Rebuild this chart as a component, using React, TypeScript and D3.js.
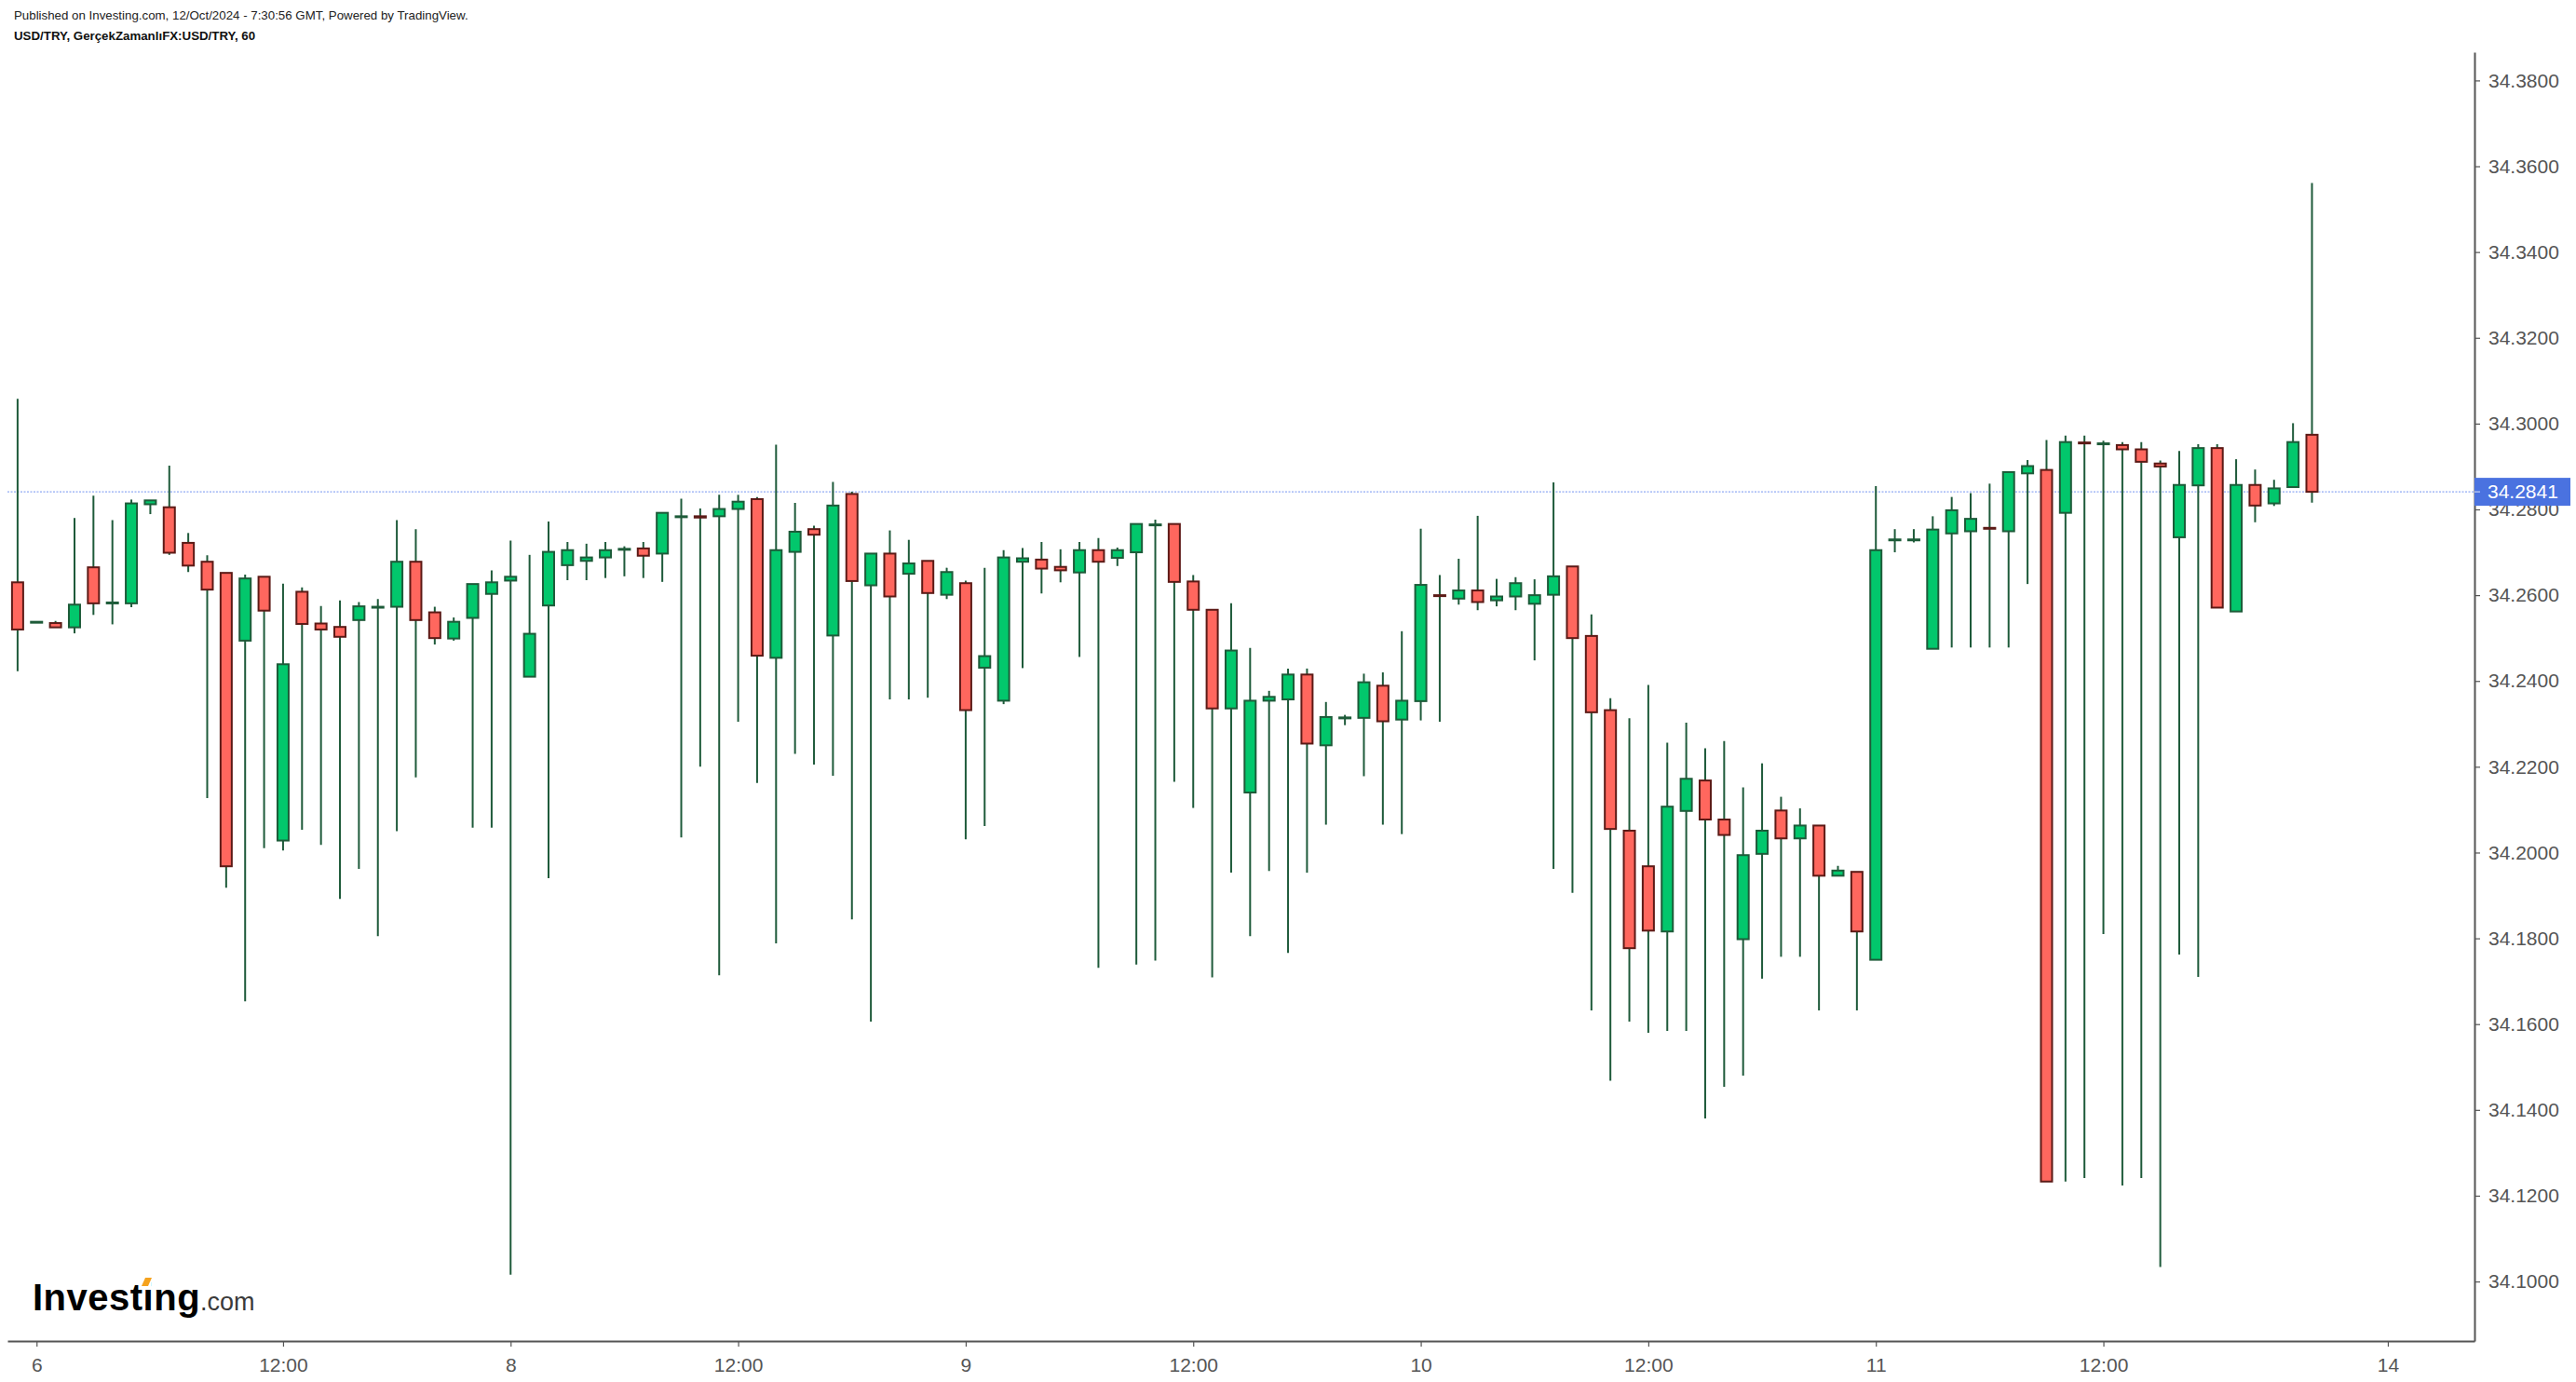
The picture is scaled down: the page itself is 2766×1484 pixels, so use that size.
import React, { useRef, useEffect } from 'react';
import * as d3 from 'd3';

// hourly USD/TRY candles
const open = [
  34.2630, 34.2538, 34.2535, 34.2525, 34.2665, 34.2581, 34.2581, 34.2812, 34.2805, 34.2722,
  34.2678, 34.2652, 34.2494, 34.2643, 34.2028, 34.2608, 34.2534, 34.2526, 34.2542, 34.2573,
  34.2573, 34.2678, 34.2560, 34.2499, 34.2547, 34.2603, 34.2634, 34.2410, 34.2576, 34.2670,
  34.2680, 34.2688, 34.2707, 34.2709, 34.2697, 34.2784, 34.2784, 34.2784, 34.2801, 34.2824,
  34.2454, 34.2701, 34.2754, 34.2506, 34.2836, 34.2623, 34.2697, 34.2650, 34.2680, 34.2601,
  34.2628, 34.2431, 34.2354, 34.2678, 34.2683, 34.2666, 34.2653, 34.2705, 34.2687, 34.2700,
  34.2764, 34.2766, 34.2632, 34.2566, 34.2336, 34.2140, 34.2354, 34.2357, 34.2415, 34.2250,
  34.2315, 34.2314, 34.2389, 34.2310, 34.2353, 34.2600, 34.2592, 34.2611, 34.2588, 34.2597,
  34.2580, 34.2601, 34.2667, 34.2505, 34.2332, 34.2051, 34.1968, 34.1816, 34.2097, 34.2168,
  34.2077, 34.1798, 34.1997, 34.2098, 34.2033, 34.2063, 34.1946, 34.1955, 34.1750, 34.2729,
  34.2729, 34.2475, 34.2744, 34.2749, 34.2757, 34.2749, 34.2884, 34.2892, 34.2792, 34.2956,
  34.2953, 34.2950, 34.2940, 34.2907, 34.2735, 34.2856, 34.2943, 34.2562, 34.2857, 34.2814,
  34.2852, 34.2974,
];
const high = [
  34.3058, 34.2539, 34.2540, 34.2780, 34.2832, 34.2775, 34.2823, 34.2821, 34.2902, 34.2745,
  34.2693, 34.2652, 34.2648, 34.2643, 34.2627, 34.2618, 34.2575, 34.2588, 34.2584, 34.2591,
  34.2775, 34.2754, 34.2573, 34.2548, 34.2626, 34.2658, 34.2727, 34.2694, 34.2772, 34.2724,
  34.2720, 34.2724, 34.2714, 34.2724, 34.2792, 34.2825, 34.2802, 34.2834, 34.2834, 34.2829,
  34.2951, 34.2815, 34.2762, 34.2864, 34.2841, 34.2697, 34.2751, 34.2729, 34.2680, 34.2664,
  34.2634, 34.2664, 34.2705, 34.2710, 34.2724, 34.2707, 34.2724, 34.2733, 34.2711, 34.2766,
  34.2776, 34.2766, 34.2647, 34.2566, 34.2581, 34.2477, 34.2377, 34.2429, 34.2429, 34.2351,
  34.2321, 34.2417, 34.2420, 34.2516, 34.2755, 34.2647, 34.2685, 34.2785, 34.2638, 34.2642,
  34.2637, 34.2863, 34.2667, 34.2555, 34.2360, 34.2313, 34.2391, 34.2256, 34.2303, 34.2243,
  34.2260, 34.2152, 34.2208, 34.2130, 34.2103, 34.2063, 34.1969, 34.1955, 34.2854, 34.2754,
  34.2754, 34.2784, 34.2829, 34.2838, 34.2860, 34.2887, 34.2915, 34.2962, 34.2972, 34.2972,
  34.2960, 34.2957, 34.2957, 34.2914, 34.2936, 34.2952, 34.2952, 34.2917, 34.2893, 34.2869,
  34.3001, 34.3561,
];
const low = [
  34.2423, 34.2537, 34.2525, 34.2511, 34.2554, 34.2532, 34.2572, 34.2789, 34.2694, 34.2654,
  34.2127, 34.1918, 34.1653, 34.2010, 34.2005, 34.2053, 34.2018, 34.1892, 34.1962, 34.1805,
  34.2050, 34.2175, 34.2485, 34.2494, 34.2058, 34.2058, 34.1016, 34.2410, 34.1940, 34.2635,
  34.2635, 34.2640, 34.2644, 34.2640, 34.2631, 34.2035, 34.2200, 34.1714, 34.2305, 34.2162,
  34.1788, 34.2230, 34.2205, 34.2179, 34.1844, 34.1606, 34.2357, 34.2357, 34.2361, 34.2591,
  34.2031, 34.2062, 34.2346, 34.2430, 34.2604, 34.2630, 34.2456, 34.1731, 34.2668, 34.1739,
  34.1748, 34.2165, 34.2104, 34.1709, 34.1953, 34.1805, 34.1957, 34.1766, 34.1953, 34.2065,
  34.2297, 34.2178, 34.2065, 34.2043, 34.2308, 34.2305, 34.2578, 34.2565, 34.2574, 34.2565,
  34.2448, 34.1962, 34.1906, 34.1632, 34.1468, 34.1606, 34.1580, 34.1584, 34.1584, 34.1380,
  34.1454, 34.1480, 34.1706, 34.1757, 34.1757, 34.1632, 34.1946, 34.1632, 34.1750, 34.2700,
  34.2723, 34.2475, 34.2478, 34.2478, 34.2478, 34.2478, 34.2626, 34.1233, 34.1233, 34.1241,
  34.1810, 34.1224, 34.1241, 34.1034, 34.1762, 34.1710, 34.2571, 34.2562, 34.2770, 34.2808,
  34.2852, 34.2816,
];
const close = [
  34.2520, 34.2538, 34.2525, 34.2578, 34.2581, 34.2583, 34.2814, 34.2821, 34.2699, 34.2669,
  34.2613, 34.1968, 34.2639, 34.2564, 34.2439, 34.2533, 34.2520, 34.2503, 34.2574, 34.2573,
  34.2678, 34.2542, 34.2500, 34.2538, 34.2626, 34.2630, 34.2643, 34.2510, 34.2701, 34.2705,
  34.2688, 34.2705, 34.2708, 34.2692, 34.2792, 34.2784, 34.2781, 34.2801, 34.2818, 34.2459,
  34.2705, 34.2748, 34.2741, 34.2809, 34.2633, 34.2697, 34.2597, 34.2674, 34.2605, 34.2654,
  34.2332, 34.2458, 34.2688, 34.2686, 34.2662, 34.2658, 34.2705, 34.2678, 34.2705, 34.2766,
  34.2765, 34.2631, 34.2566, 34.2336, 34.2471, 34.2354, 34.2363, 34.2415, 34.2254, 34.2316,
  34.2315, 34.2397, 34.2306, 34.2354, 34.2624, 34.2598, 34.2611, 34.2584, 34.2597, 34.2628,
  34.2600, 34.2644, 34.2500, 34.2327, 34.2055, 34.1777, 34.1818, 34.2107, 34.2172, 34.2077,
  34.2041, 34.1994, 34.2051, 34.2033, 34.2063, 34.1946, 34.1958, 34.1816, 34.2705, 34.2730,
  34.2730, 34.2753, 34.2798, 34.2778, 34.2756, 34.2887, 34.2901, 34.1233, 34.2957, 34.2954,
  34.2954, 34.2940, 34.2911, 34.2900, 34.2857, 34.2943, 34.2571, 34.2857, 34.2809, 34.2849,
  34.2957, 34.2841,
];

const priceTicks = [
  34.10, 34.12, 34.14, 34.16, 34.18, 34.20, 34.22, 34.24,
  34.26, 34.28, 34.30, 34.32, 34.34, 34.36, 34.38,
];
const timeTickIndex = [1, 14, 26, 38, 50, 62, 74, 86, 98, 110, 125];
const timeTickLabels = ['6', '12:00', '8', '12:00', '9', '12:00', '10', '12:00', '11', '12:00', '14'];
const lastPrice = 34.2841;

const headerLine1 = 'Published on Investing.com, 12/Oct/2024 - 7:30:56 GMT, Powered by TradingView.';
const headerLine2 = 'USD/TRY, GerçekZamanlıFX:USD/TRY, 60';

const W = 2766;
const H = 1484;
const FONT = '"Liberation Sans", Arial, Helvetica, sans-serif';

const UP_FILL = '#02c76c';
const UP_EDGE = '#1d5b39';
const DOWN_FILL = '#ff675e';
const DOWN_EDGE = '#5c1a16';
const WICK = '#1e5a3a';
const AXIS = '#555555';

const App: React.FC = () => {
  const ref = useRef<SVGSVGElement | null>(null);

  useEffect(() => {
    if (!ref.current) return;
    const svg = d3.select(ref.current);
    svg.selectAll('*').remove();

    const plot = { left: 8, right: 2657, top: 56, bottom: 1440 };

    // index -> px, price -> px
    const x = d3.scaleLinear().domain([-0.535, 129.57]).range([plot.left, plot.right]);
    const y = d3.scaleLinear().domain([34.08612, 34.3866]).range([plot.bottom, plot.top]);

    svg.append('rect').attr('width', W).attr('height', H).attr('fill', '#ffffff');

    // header
    svg.append('text')
      .attr('x', 15).attr('y', 21)
      .attr('font-family', FONT).attr('font-size', 13.3).attr('fill', '#222')
      .text(headerLine1);
    svg.append('text')
      .attr('x', 15).attr('y', 43)
      .attr('font-family', FONT).attr('font-size', 13.3).attr('font-weight', 'bold').attr('fill', '#111')
      .text(headerLine2);

    // price line
    svg.append('line')
      .attr('x1', plot.left).attr('x2', plot.right)
      .attr('y1', y(lastPrice)).attr('y2', y(lastPrice))
      .attr('stroke', '#90a9f3').attr('stroke-width', 1.4)
      .attr('stroke-dasharray', '2,1.5');

    const data = open.map((o, i) => ({ i, o, h: high[i], l: low[i], c: close[i] }));

    // wicks
    svg.append('g').selectAll('line')
      .data(data)
      .join('line')
      .attr('x1', d => x(d.i)).attr('x2', d => x(d.i))
      .attr('y1', d => y(d.h)).attr('y2', d => y(d.l))
      .attr('stroke', WICK).attr('stroke-width', 2);

    // bodies
    svg.append('g').selectAll('rect')
      .data(data)
      .join('rect')
      .attr('x', d => x(d.i) - 6)
      .attr('width', 12)
      .attr('y', d => y(Math.max(d.o, d.c)))
      .attr('height', d => Math.max(Math.abs(y(d.o) - y(d.c)), 1))
      .attr('fill', d => (d.c >= d.o ? UP_FILL : DOWN_FILL))
      .attr('stroke', d => (d.c >= d.o ? UP_EDGE : DOWN_EDGE))
      .attr('stroke-width', 2);

    // y axis on the right
    const yAxis = svg.append('g')
      .attr('transform', `translate(${plot.right},0)`)
      .call(d3.axisRight(y).tickValues(priceTicks).tickFormat(d => d3.format('.4f')(d as number))
        .tickSize(6).tickSizeOuter(0).tickPadding(9));
    yAxis.select('.domain').attr('stroke', AXIS).attr('stroke-width', 2);
    yAxis.selectAll('.tick line').attr('stroke', AXIS).attr('stroke-width', 1.2);
    yAxis.selectAll('text')
      .attr('font-family', FONT).attr('font-size', 21).attr('fill', AXIS);

    // x axis at the bottom
    const xAxis = svg.append('g')
      .attr('transform', `translate(0,${plot.bottom})`)
      .call(d3.axisBottom(x).tickValues(timeTickIndex)
        .tickFormat((_, k) => timeTickLabels[k])
        .tickSize(6).tickSizeOuter(0).tickPadding(12));
    xAxis.select('.domain').attr('stroke', AXIS).attr('stroke-width', 2);
    xAxis.selectAll('.tick line').attr('stroke', AXIS).attr('stroke-width', 1.2);
    xAxis.selectAll('text')
      .attr('font-family', FONT).attr('font-size', 21).attr('fill', AXIS);

    // last price label
    const py = y(lastPrice);
    svg.append('rect')
      .attr('x', plot.right).attr('y', py - 15)
      .attr('width', 103).attr('height', 30)
      .attr('fill', '#4a72e0');
    svg.append('line')
      .attr('x1', plot.right).attr('x2', plot.right + 6)
      .attr('y1', py).attr('y2', py)
      .attr('stroke', '#c8d4f5').attr('stroke-width', 1.2);
    svg.append('text')
      .attr('x', plot.right + 14).attr('y', py)
      .attr('dy', '0.35em')
      .attr('font-family', FONT).attr('font-size', 21).attr('fill', '#ffffff')
      .text(d3.format('.4f')(lastPrice));

    // Investing.com logo
    const logo = svg.append('text')
      .attr('x', 35).attr('y', 1407)
      .attr('font-family', FONT);
    logo.append('tspan')
      .attr('font-size', 40).attr('font-weight', 'bold').attr('fill', '#000')
      .attr('letter-spacing', 0.5)
      .text('Investing');
    logo.append('tspan')
      .attr('font-size', 27).attr('fill', '#3a3a3a')
      .text('.com');
    // orange tittle over the "i"
    svg.append('rect')
      .attr('x', 151).attr('y', 1376).attr('width', 11).attr('height', 9)
      .attr('fill', '#ffffff');
    svg.append('polygon')
      .attr('points', '152,1381 156,1372 163,1372 159,1381')
      .attr('fill', '#f5a21e');
  }, []);

  return (
    <svg
      ref={ref}
      width={W}
      height={H}
      style={{ position: 'absolute', left: 0, top: 0, display: 'block' }}
    />
  );
};

export default App;
